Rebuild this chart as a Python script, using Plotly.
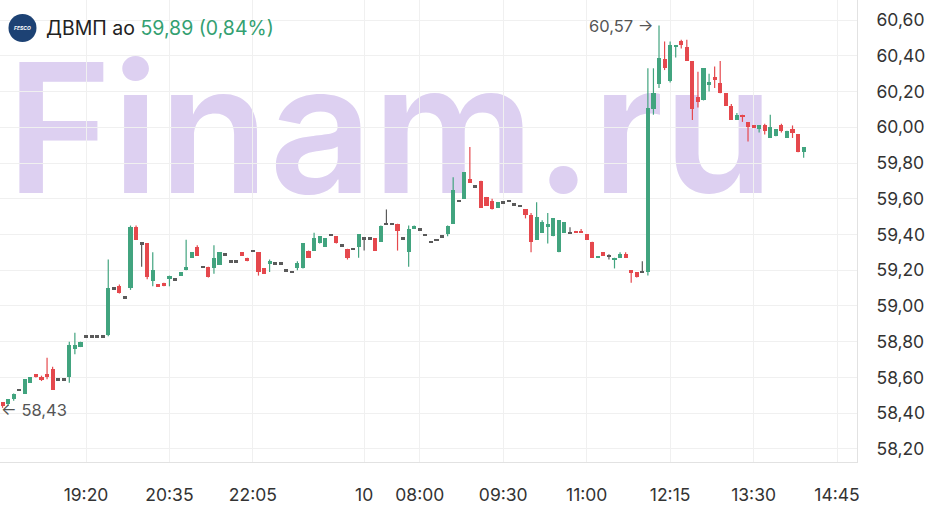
import plotly.graph_objects as go

# ---- data (5-min candles, ДВМП ао) ----
open_ = [58.46, 58.45, 58.48, 58.53, 58.51, 58.57, 58.62, 58.60, 58.62, 58.65,
         58.59, 58.59, 58.60, 58.76, 58.77, 58.83, 58.83, 58.83, 58.83, 58.84,
         59.10, 59.11, 59.05, 59.10, 59.44, 59.35, 59.35, 59.14, 59.12, 59.13,
         59.15, 59.15, 59.17, 59.20, 59.27, 59.33, 59.22, 59.22, 59.21, 59.23,
         59.29, 59.25, 59.25, 59.30, 59.27, 59.31, 59.30, 59.21, 59.24, 59.24,
         59.24, 59.20, 59.19, 59.21, 59.21, 59.31, 59.31, 59.35, 59.33, 59.40,
         59.39, 59.34, 59.32, 59.32, 59.33, 59.38, 59.38, 59.38, 59.36, 59.46,
         59.46, 59.46, 59.38, 59.30, 59.43, 59.43, 59.40, 59.36, 59.37, 59.39,
         59.40, 59.46, 59.59, 59.60, 59.71, 59.67, 59.70, 59.61, 59.59, 59.55,
         59.58, 59.59, 59.57, 59.56, 59.54, 59.51, 59.37, 59.41, 59.44, 59.39,
         59.30, 59.41, 59.41, 59.42, 59.42, 59.40, 59.36, 59.27, 59.30, 59.28,
         59.26, 59.27, 59.29, 59.20, 59.19, 59.19, 59.19, 60.10, 60.24, 60.38,
         60.26, 60.45, 60.48, 60.45, 60.37, 60.17, 60.15, 60.24, 60.28, 60.25,
         60.19, 60.12, 60.04, 60.07, 60.03, 60.01, 59.99, 60.01, 59.94, 59.95,
         60.01, 59.94, 59.99, 59.96, 59.86]
high = [58.46, 58.48, 58.51, 58.53, 58.59, 58.60, 58.62, 58.61, 58.71, 58.66,
        58.59, 58.59, 58.80, 58.85, 58.80, 58.83, 58.83, 58.83, 58.83, 59.26,
        59.10, 59.12, 59.05, 59.45, 59.45, 59.35, 59.35, 59.30, 59.12, 59.13,
        59.17, 59.15, 59.19, 59.37, 59.30, 59.34, 59.22, 59.22, 59.34, 59.30,
        59.29, 59.25, 59.25, 59.30, 59.27, 59.31, 59.30, 59.21, 59.26, 59.24,
        59.24, 59.20, 59.19, 59.25, 59.35, 59.31, 59.41, 59.39, 59.38, 59.40,
        59.39, 59.34, 59.32, 59.32, 59.40, 59.38, 59.38, 59.38, 59.45, 59.54,
        59.46, 59.46, 59.38, 59.45, 59.45, 59.43, 59.40, 59.36, 59.37, 59.39,
        59.45, 59.72, 59.59, 59.75, 59.89, 59.67, 59.70, 59.61, 59.60, 59.58,
        59.58, 59.59, 59.57, 59.56, 59.54, 59.52, 59.58, 59.48, 59.52, 59.49,
        59.48, 59.47, 59.44, 59.42, 59.43, 59.40, 59.36, 59.28, 59.30, 59.29,
        59.27, 59.30, 59.30, 59.20, 59.19, 59.25, 60.33, 60.33, 60.57, 60.48,
        60.48, 60.46, 60.49, 60.49, 60.37, 60.31, 60.33, 60.30, 60.34, 60.37,
        60.19, 60.13, 60.08, 60.07, 60.03, 60.01, 60.01, 60.02, 60.07, 59.99,
        60.02, 59.98, 60.01, 59.96, 59.89]
low = [58.43, 58.44, 58.47, 58.53, 58.51, 58.57, 58.60, 58.58, 58.59, 58.53,
       58.59, 58.59, 58.57, 58.73, 58.77, 58.83, 58.83, 58.83, 58.83, 58.83,
       59.10, 59.07, 59.05, 59.09, 59.37, 59.22, 59.15, 59.11, 59.11, 59.11,
       59.11, 59.15, 59.17, 59.20, 59.27, 59.28, 59.22, 59.16, 59.18, 59.23,
       59.29, 59.25, 59.25, 59.28, 59.25, 59.31, 59.17, 59.18, 59.19, 59.24,
       59.24, 59.20, 59.19, 59.20, 59.21, 59.27, 59.31, 59.35, 59.33, 59.40,
       59.35, 59.34, 59.26, 59.32, 59.27, 59.31, 59.38, 59.31, 59.36, 59.46,
       59.46, 59.31, 59.38, 59.22, 59.43, 59.43, 59.40, 59.36, 59.37, 59.39,
       59.39, 59.46, 59.59, 59.60, 59.69, 59.67, 59.55, 59.56, 59.54, 59.55,
       59.58, 59.59, 59.57, 59.56, 59.49, 59.30, 59.37, 59.41, 59.35, 59.39,
       59.30, 59.41, 59.41, 59.41, 59.41, 59.37, 59.27, 59.27, 59.28, 59.26,
       59.21, 59.27, 59.27, 59.13, 59.16, 59.19, 59.17, 60.07, 60.22, 60.32,
       60.25, 60.39, 60.44, 60.37, 60.04, 60.11, 60.15, 60.20, 60.22, 60.19,
       60.12, 60.04, 60.04, 60.03, 59.92, 60.00, 59.97, 59.96, 59.94, 59.95,
       59.97, 59.94, 59.94, 59.86, 59.83]
close = [58.44, 58.48, 58.51, 58.53, 58.59, 58.60, 58.60, 58.59, 58.60, 58.53,
         58.59, 58.59, 58.78, 58.78, 58.80, 58.83, 58.83, 58.83, 58.83, 59.10,
         59.10, 59.07, 59.05, 59.44, 59.37, 59.35, 59.16, 59.20, 59.11, 59.11,
         59.17, 59.15, 59.19, 59.22, 59.30, 59.28, 59.22, 59.16, 59.27, 59.30,
         59.29, 59.25, 59.25, 59.28, 59.25, 59.31, 59.19, 59.18, 59.25, 59.24,
         59.24, 59.20, 59.19, 59.24, 59.35, 59.27, 59.38, 59.39, 59.38, 59.40,
         59.35, 59.34, 59.27, 59.32, 59.40, 59.38, 59.38, 59.31, 59.45, 59.46,
         59.46, 59.42, 59.38, 59.43, 59.45, 59.43, 59.40, 59.36, 59.37, 59.39,
         59.45, 59.65, 59.59, 59.75, 59.69, 59.67, 59.55, 59.56, 59.54, 59.58,
         59.58, 59.59, 59.57, 59.56, 59.51, 59.36, 59.50, 59.47, 59.46, 59.49,
         59.48, 59.47, 59.41, 59.41, 59.41, 59.37, 59.27, 59.28, 59.28, 59.28,
         59.27, 59.29, 59.27, 59.19, 59.16, 59.19, 60.11, 60.19, 60.39, 60.33,
         60.46, 60.46, 60.46, 60.37, 60.10, 60.14, 60.33, 60.25, 60.27, 60.19,
         60.12, 60.04, 60.07, 60.06, 60.00, 60.00, 60.01, 59.98, 60.00, 59.99,
         59.98, 59.98, 59.97, 59.86, 59.89]

tick_pos = [15, 30, 45, 65, 75, 90, 105, 120, 135, 150]
tick_labels = ["19:20", "20:35", "22:05", "10", "08:00", "09:30", "11:00", "12:15", "13:30", "14:45"]
price_ticks = [58.2, 58.4, 58.6, 58.8, 59.0, 59.2, 59.4, 59.6, 59.8, 60.0, 60.2, 60.4, 60.6]

ticker = "ДВМП ао"
last_price = "59,89"
change = "0,84%"

# ---- styling ----
GREEN = "#42a47f"
RED = "#e5484d"
GREY = "#5a5a5a"
FONT = "Inter"

n = len(open_)
idx = list(range(n))
colors, bases, heights = [], [], []
DOJI_H = 0.011
for o, c in zip(open_, close):
    if c > o:
        colors.append(GREEN)
    elif c < o:
        colors.append(RED)
    else:
        colors.append(GREY)
    h = abs(c - o)
    if h < DOJI_H:
        mid = (o + c) / 2
        bases.append(mid - DOJI_H / 2)
        heights.append(DOJI_H)
    else:
        bases.append(min(o, c))
        heights.append(h)

fig = go.Figure()

# wicks grouped per colour
for col in (GREEN, RED, GREY):
    xs, ys = [], []
    for i in idx:
        if colors[i] == col and high[i] > low[i]:
            xs += [i, i, None]
            ys += [low[i], high[i], None]
    fig.add_trace(go.Scatter(x=xs, y=ys, mode="lines", line=dict(color=col, width=1.2),
                             hoverinfo="skip", showlegend=False))

fig.add_trace(go.Bar(x=idx, y=heights, base=bases, width=0.74,
                     marker=dict(color=colors, line=dict(width=0)),
                     showlegend=False, hoverinfo="skip"))

# extremes annotations
imax = max(idx, key=lambda i: high[i])
imin = min(idx, key=lambda i: low[i])
fmt = lambda v: f"{v:.2f}".replace(".", ",")
annotations = [
    dict(x=imax, y=high[imax], xref="x", yref="y", text=f"{fmt(high[imax])} →",
         showarrow=False, xanchor="right", yanchor="middle", xshift=-3, yshift=-1,
         font=dict(family=FONT, size=16.5, color="#555555")),
    dict(x=imin, y=low[imin], xref="x", yref="y", text=f"← {fmt(low[imin])}",
         showarrow=False, xanchor="left", yanchor="middle", xshift=-4, yshift=-2,
         font=dict(family=FONT, size=16.5, color="#555555")),
    dict(x=44 / 857, y=1 - 28 / 462, xref="paper", yref="paper", xanchor="left", yanchor="middle",
         showarrow=False,
         text=f"{ticker} <span style='color:#33a071'>{last_price} ({change})</span>",
         font=dict(family=FONT, size=19.5, color="#222222")),
    dict(x=22.5 / 857, y=1 - 28 / 462, xref="paper", yref="paper", xanchor="center", yanchor="middle",
         showarrow=False, text="<b><i>FESCO</i></b>",
         font=dict(family=FONT, size=5, color="#ffffff")),
]

shapes = [
    dict(type="rect", xref="paper", yref="paper", x0=-0.02, x1=0.93, y0=1 - 215 / 462, y1=1 - 27 / 462,
         layer="below", line=dict(width=0), fillcolor="rgba(0,0,0,0)",
         label=dict(text="Finam.ru", textposition="middle center",
                    font=dict(family=FONT, size=180, color="#ddd0f1", weight=600))),
    dict(type="circle", xref="paper", yref="paper",
         x0=8.5 / 857, x1=36.5 / 857, y0=1 - 42 / 462, y1=1 - 14 / 462,
         line=dict(width=0), fillcolor="#1d4274", layer="above"),
]

fig.update_layout(
    width=943, height=514, autosize=False,
    margin=dict(l=0, r=86, t=0, b=52),
    paper_bgcolor="white", plot_bgcolor="white",
    separators=", ",
    bargap=0,
    hovermode=False,
    annotations=annotations, shapes=shapes,
    xaxis=dict(range=[-0.459, 153.59], tickmode="array", tickvals=tick_pos, ticktext=tick_labels,
               showgrid=True, gridcolor="#f0f0f0", gridwidth=1, zeroline=False,
               showline=True, linecolor="#e2e2e2", linewidth=1, ticks="",
               ticklabelstandoff=17,
               tickfont=dict(family=FONT, size=17.5, color="#333333")),
    yaxis=dict(range=[58.127, 60.712], side="right", tickmode="array", tickvals=price_ticks,
               tickformat=".2f", showgrid=True, gridcolor="#f0f0f0", gridwidth=1, zeroline=False,
               showline=True, linecolor="#e2e2e2", linewidth=1, ticks="",
               ticklabelstandoff=15,
               tickfont=dict(family=FONT, size=17.5, color="#333333")),
)

fig.write_html("out.html", config={"displayModeBar": False},
               post_script="document.body.style.margin='0';document.body.style.overflow='hidden';")
